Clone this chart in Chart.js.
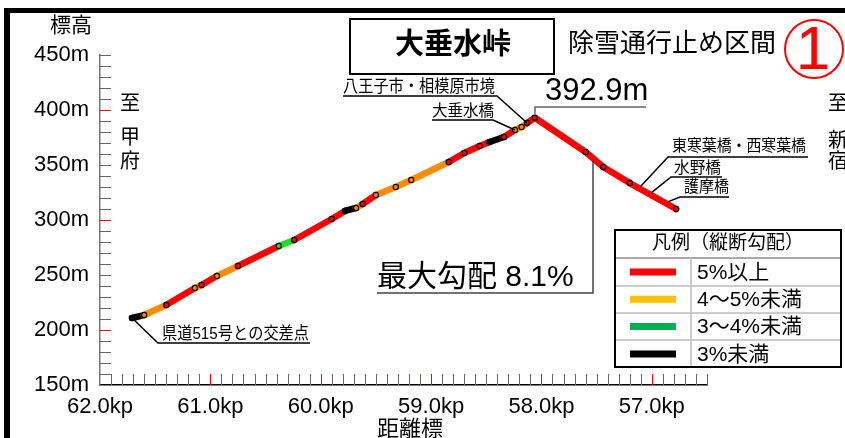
<!DOCTYPE html>
<html>
<head>
<meta charset="utf-8">
<script src="https://cdn.jsdelivr.net/npm/chart.js@4.4.1/dist/chart.umd.min.js"></script>
<style>
html,body{margin:0;padding:0;background:#fff}
</style>
</head>
<body>
<canvas id="profile" width="845" height="438"></canvas>
<script>
// 距離標 (kp) と 標高 (m)
const kp   = [61.71,61.60,61.40,61.14,61.08,60.94,60.75,60.38,60.24,59.90,59.78,59.68,59.62,59.50,59.32,59.18,58.84,58.70,58.56,58.47,58.34,58.24,58.18,58.13,58.06,57.60,57.44,57.20,56.78];
const elev = [210.9,213.6,222.7,238.2,240.9,249.1,258.2,276.4,281.8,300.9,308.2,310.9,314.5,322.7,330.0,336.4,352.7,360.9,367.3,370.9,375.5,381.8,384.5,388.2,392.9,361.8,348.2,333.6,310.0];
// 区間ごとの勾配区分 0:5%以上 1:4~5% 2:3~4% 3:3%未満
const grade = [3,1,0,1,0,1,0,2,0,0,3,1,0,1,1,1,0,0,0,3,0,1,1,0,0,0,0,0];
const gradeColors = ['#ff0000','#ff8c00','#22dd22','#000000'];

const legendLabels = ['5%以上','4～5%未満','3～4%未満','3%未満'];
const legendColors = ['#ff0000','#ffc000','#00b050','#000000'];

const yLabels = [150,200,250,300,350,400,450];
const xLabels = [62,61,60,59,58,57];

const FONT = "'Liberation Sans','Noto Sans CJK JP',sans-serif";
Chart.defaults.font.family = FONT;

function txt(c, s, x, y, size, o) {
  o = o || {};
  c.font = (o.bold ? 'bold ' : '') + size + 'px ' + FONT;
  c.textAlign = o.align || 'left';
  c.textBaseline = 'middle';
  c.fillStyle = o.color || '#000';
  if (o.w) c.fillText(s, x, y, o.w); else c.fillText(s, x, y);
}
function line(c, pts, color, w) {
  c.strokeStyle = color; c.lineWidth = w;
  c.beginPath();
  c.moveTo(pts[0][0], pts[0][1]);
  for (let i = 1; i < pts.length; i++) c.lineTo(pts[i][0], pts[i][1]);
  c.stroke();
}
function elevAt(k) {
  for (let i = 0; i < kp.length - 1; i++) {
    if (k <= kp[i] && k >= kp[i+1]) {
      const t = (kp[i] - k) / (kp[i] - kp[i+1]);
      return elev[i] + t * (elev[i+1] - elev[i]);
    }
  }
  return elev[elev.length - 1];
}

const deco = {
  id: 'deco',
  afterDraw(chart) {
    const c = chart.ctx, xs = chart.scales.x, ys = chart.scales.y;
    const P = (k, m) => [xs.getPixelForValue(k), ys.getPixelForValue(m)];
    c.save();

    // 枠
    c.fillStyle = '#000';
    c.fillRect(4, 8, 841, 5);
    c.fillRect(4, 8, 6, 430);

    // 目盛 (内向き)
    c.lineWidth = 1;
    xs.ticks.forEach(t => {
      if (Math.abs(t.value - xs.max) < 1e-6) return;
      const px = Math.round(xs.getPixelForValue(t.value)) + 0.5;
      const major = Math.abs(t.value - Math.round(t.value)) < 1e-6;
      c.strokeStyle = major ? '#ff0000' : '#666';
      c.beginPath(); c.moveTo(px, ys.bottom); c.lineTo(px, ys.bottom - 11); c.stroke();
    });
    ys.ticks.forEach(t => {
      if (Math.abs(t.value - ys.min) < 1e-6) return;
      const py = Math.round(ys.getPixelForValue(t.value)) + 0.5;
      const major = Math.round(t.value) % 100 === 0;
      c.strokeStyle = major ? '#ff0000' : '#666';
      c.beginPath(); c.moveTo(xs.left, py); c.lineTo(xs.left + 11, py); c.stroke();
    });

    // 軸タイトル
    txt(c, '標高', 71, 26, 21, {align: 'center'});
    txt(c, '距離標', 410, 430, 22, {align: 'center'});

    // 至 甲府 / 至 新宿
    txt(c, '至', 130, 104, 20, {align: 'center'});
    txt(c, '甲', 130, 138, 20, {align: 'center'});
    txt(c, '府', 130, 162, 20, {align: 'center'});
    txt(c, '至', 838, 104, 20, {align: 'center'});
    txt(c, '新', 838, 141, 20, {align: 'center'});
    txt(c, '宿', 838, 162, 20, {align: 'center'});

    // タイトル
    c.strokeStyle = '#000'; c.lineWidth = 2;
    c.strokeRect(350, 19, 204, 55);
    txt(c, '大垂水峠', 453, 46, 29, {align: 'center', bold: true});
    txt(c, '除雪通行止め区間', 568, 45, 26, {w: 214});
    c.strokeStyle = '#ff0000'; c.lineWidth = 2;
    c.beginPath(); c.arc(814, 49, 29, 0, Math.PI * 2); c.stroke();
    txt(c, '1', 813, 52, 62, {align: 'center', color: '#ff0000'});

    // 地点注記
    const peak = P(kp[24], elev[24]);
    txt(c, '392.9m', 545, 91, 31);
    line(c, [[535, peak[1] - 4], [535, 107], [646, 107]], '#666', 1.5);

    const p23 = P(kp[23], elev[23]);
    txt(c, '八王子市・相模原市境', 343, 87, 17, {w: 152});
    line(c, [[343, 96], [497, 96], p23], '#000', 1.5);

    const p21 = P(kp[21], elev[21]);
    txt(c, '大垂水橋', 432, 112, 16, {w: 62});
    line(c, [[432, 120], [493, 120], p21], '#000', 1.5);

    const pA = P(57.10, elevAt(57.10));
    txt(c, '東寒葉橋・西寒葉橋', 672, 147, 16, {w: 134});
    line(c, [[808, 157], [668, 157], [pA[0], pA[1] - 3]], '#000', 1.5);

    const pB = P(57.00, elevAt(57.00));
    txt(c, '水野橋', 674, 169, 16, {w: 47});
    line(c, [[722, 177], [671, 177], [pB[0], pB[1] - 3]], '#000', 1.5);

    const pC = P(56.85, elevAt(56.85));
    txt(c, '護摩橋', 684, 188, 16, {w: 45});
    line(c, [[729, 197], [680, 197], [pC[0], pC[1] - 3]], '#000', 1.5);

    const pM = P(57.54, elevAt(57.54));
    txt(c, '最大勾配 8.1%', 377, 278, 30, {w: 210});
    line(c, [[377, 293], [593, 293], [593, pM[1] + 2]], '#444', 1.5);

    const p0 = P(kp[0], elev[0]);
    txt(c, '県道515号との交差点', 162, 334, 17, {w: 147});
    line(c, [p0, [158, 343], [310, 343]], '#000', 1.5);

    // 凡例
    c.fillStyle = '#fff';
    c.fillRect(615, 230, 226, 137);
    line(c, [[615, 258], [841, 258]], '#aaa', 2);
    [286, 313, 340].forEach(y => line(c, [[615, y], [841, y]], '#bbb', 1.5));
    line(c, [[691, 258], [691, 367]], '#bbb', 1.5);
    c.strokeStyle = '#000'; c.lineWidth = 2;
    c.strokeRect(615, 230, 226, 137);
    txt(c, '凡例（縦断勾配）', 728, 244, 19, {align: 'center'});
    legendLabels.forEach((s, i) => {
      const y = 272 + i * 27.3;
      line(c, [[630, y], [676, y]], legendColors[i], 7);
      txt(c, s, 697, y + 1, 21);
    });

    c.restore();
  }
};

new Chart(document.getElementById('profile'), {
  type: 'line',
  data: {
    datasets: [{
      data: kp.map((k, i) => ({x: k, y: elev[i]})),
      borderWidth: 6.5,
      borderColor: '#ff0000',
      segment: { borderColor: ctx => gradeColors[grade[ctx.p0DataIndex]] },
      borderCapStyle: 'round',
      borderJoinStyle: 'round',
      tension: 0,
      pointRadius: 2.6,
      pointBorderWidth: 1.2,
      pointBorderColor: '#000',
      pointBackgroundColor: 'rgba(0,0,0,0)'
    }]
  },
  options: {
    responsive: false,
    animation: false,
    layout: { padding: { top: 55, right: 138, left: 0, bottom: 0 } },
    plugins: { legend: { display: false }, tooltip: { enabled: false } },
    scales: {
      x: {
        type: 'linear', reverse: true, min: 56.5, max: 62,
        afterFit: s => { s.height = 53; },
        grid: { display: false, drawTicks: false },
        border: { display: true, color: '#000', width: 1.5 },
        ticks: {
          stepSize: 0.1, autoSkip: false, maxRotation: 0, padding: 9,
          color: '#000', font: { size: 22 },
          callback: v => {
            const r = Math.round(v);
            return (Math.abs(v - r) < 1e-6 && xLabels.includes(r)) ? r.toFixed(1) + 'kp' : '';
          }
        }
      },
      y: {
        min: 150, max: 450,
        afterFit: s => { s.width = 100; },
        grid: { display: false, drawTicks: false },
        border: { display: true, color: '#777', width: 1.5 },
        ticks: {
          stepSize: 10, autoSkip: false, padding: 11,
          color: '#000', font: { size: 22 },
          callback: v => yLabels.includes(Math.round(v)) ? Math.round(v) + 'm' : ''
        }
      }
    }
  },
  plugins: [deco]
});
</script>
</body>
</html>
